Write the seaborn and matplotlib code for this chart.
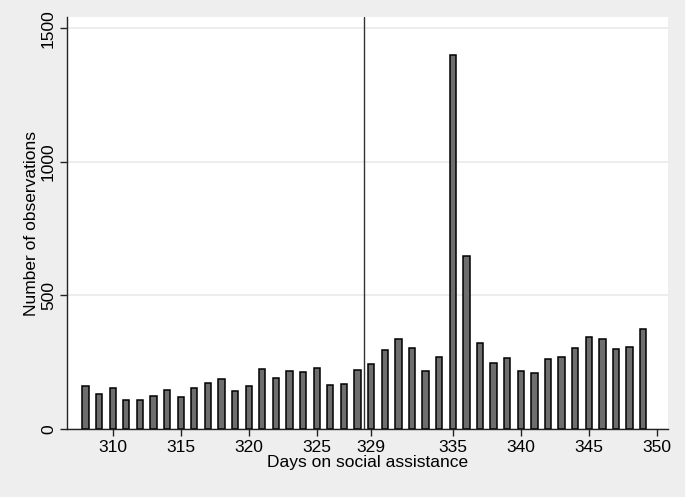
"""Histogram of days on social assistance, Stata-like look."""

import matplotlib
matplotlib.use("Agg")
import matplotlib.pyplot as plt
import pandas as pd
import seaborn as sns

# data
days = list(range(308, 350))
counts = [162, 131, 153, 110, 108, 122, 146, 120, 153, 173,
          188, 143, 162, 226, 192, 216, 213, 229, 165, 168,
          219, 242, 297, 338, 303, 218, 268, 1400, 648, 323,
          247, 267, 216, 211, 261, 271, 302, 344, 338, 299,
          307, 375]
x_ticks = [310, 315, 320, 325, 329, 335, 340, 345, 350]
y_ticks = [0, 500, 1000, 1500]
cutoff = 328.5

df = pd.DataFrame({"day": days, "n": counts})

sns.set_theme(style="white")
plt.rcParams["font.family"] = ["Liberation Sans", "DejaVu Sans"]
plt.rcParams["text.color"] = "black"
plt.rcParams["axes.labelcolor"] = "black"
plt.rcParams["xtick.color"] = "black"
plt.rcParams["ytick.color"] = "black"

fig = plt.figure(figsize=(6.85, 4.97), dpi=100, facecolor="#eeeeee")
ax = fig.add_axes([67 / 685, 68 / 497, 601 / 685, 411.7 / 497])
ax.set_facecolor("white")

ax.set_axisbelow(True)
ax.grid(axis="y", color="#eaeaea", linewidth=1.2)

sns.barplot(data=df, x="day", y="n", native_scale=True, width=0.47,
            color="#6e6e6e", saturation=1, edgecolor="black",
            linewidth=1.1, ax=ax)

ax.axvline(cutoff, color="#333333", linewidth=1.0)

ax.set_xlim(306.64, 350.83)
ax.set_ylim(0, 1541)
ax.set_xticks(x_ticks)
ax.set_yticks(y_ticks)
ax.set_xticklabels([str(t) for t in x_ticks], fontsize=12.5)
ax.set_yticklabels([str(t) for t in y_ticks], fontsize=12.5, rotation=90, va="center")

ax.set_xlabel("Days on social assistance", fontsize=12.5, labelpad=0)
ax.set_ylabel("Number of observations", fontsize=12.5, labelpad=1)

for side in ["top", "right"]:
    ax.spines[side].set_visible(False)
for side in ["left", "bottom"]:
    ax.spines[side].set_color("#222222")
    ax.spines[side].set_linewidth(1.0)

ax.tick_params(axis="both", which="major", direction="out", length=5,
               width=1.0, color="#222222", bottom=True, left=True, pad=3)

fig.savefig("out.png", dpi=100, facecolor=fig.get_facecolor())
